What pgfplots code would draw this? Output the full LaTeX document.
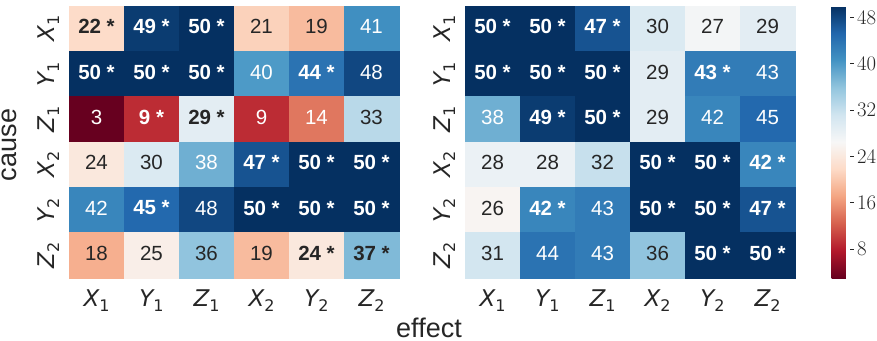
\documentclass[border=0pt]{standalone}
\usepackage{pgfplots}
\pgfplotsset{compat=1.18}
\usepackage{fontspec}
\setmainfont{Liberation Sans}
\newfontfamily\dv{DejaVu Sans}
\definecolor{txt}{HTML}{262626}
% mathtext-like tick label: italic letter, upright subscript digit
\newcommand\lb[2]{{\dv\itshape #1}\raisebox{-0.22em}{\fontsize{16}{16}\selectfont\dv #2}}

\pgfplotsset{
  colormap={rdbu}{rgb255=(103,0,31) rgb255=(178,24,43) rgb255=(214,96,77)
    rgb255=(244,165,130) rgb255=(253,219,199) rgb255=(247,247,247)
    rgb255=(209,229,240) rgb255=(146,197,222) rgb255=(67,147,195)
    rgb255=(33,102,172) rgb255=(5,48,97)},
  hm/.style={
    scale only axis, width=330pt, height=272pt,
    xmin=-0.5, xmax=5.5, ymin=-0.5, ymax=5.5, y dir=reverse,
    enlargelimits=false, axis line style={draw=none},
    major tick length=0pt, clip=false,
    point meta min=3, point meta max=50,
    xtick={0,...,5}, ytick={0,...,5},
    xticklabels={\lb{X}{1},\lb{Y}{1},\lb{Z}{1},\lb{X}{2},\lb{Y}{2},\lb{Z}{2}},
    yticklabels={\lb{X}{1},\lb{Y}{1},\lb{Z}{1},\lb{X}{2},\lb{Y}{2},\lb{Z}{2}},
    ticklabel style={text=txt, font=\fontsize{23}{23}\selectfont},
    xticklabel style={anchor=base, yshift=-28pt},
    yticklabel style={xshift=-15pt, rotate=90, anchor=base},
  },
  % each cell: a filled rectangle mark 55pt x 45.33pt coloured by the value
  hmcells/.style={scatter, only marks, mark=square*, mark size=22.67pt,
    every mark/.append style={xscale=1.2133, line width=0.6pt},
    scatter/use mapped color={draw=mapped color, fill=mapped color},
    point meta=explicit},
  % meta = value + 100 if significant
  hmvals/.style={draw=none, mark=none,
    point meta={\thisrow{v}+100*\thisrow{s}},
    nodes near coords={%
      \pgfmathprintnumberto[fixed, precision=0, 1000 sep={}, assume math mode=true]{\pgfplotspointmeta}{\m}%
      \pgfmathtruncatemacro\sig{\m>99}%
      \pgfmathtruncatemacro\val{\m-100*\sig}%
      \pgfmathtruncatemacro\wt{(\val<16)||(\val>37.5)}%
      \ifnum\wt=1\color{white}\else\color{txt}\fi
      \ifnum\sig=1\bfseries\val~*\else\val\fi},
    nodes near coords style={anchor=center, yshift=2pt,
      font=\fontsize{20.5}{20.5}\selectfont}},
}

\pgfplotstableread{
x y v s
0 0 22 1
1 0 49 1
2 0 50 1
3 0 21 0
4 0 19 0
5 0 41 0
0 1 50 1
1 1 50 1
2 1 50 1
3 1 40 0
4 1 44 1
5 1 48 0
0 2 3 0
1 2 9 1
2 2 29 1
3 2 9 0
4 2 14 0
5 2 33 0
0 3 24 0
1 3 30 0
2 3 38 0
3 3 47 1
4 3 50 1
5 3 50 1
0 4 42 0
1 4 45 1
2 4 48 0
3 4 50 1
4 4 50 1
5 4 50 1
0 5 18 0
1 5 25 0
2 5 36 0
3 5 19 0
4 5 24 1
5 5 37 1
}\lefttab

\pgfplotstableread{
x y v s
0 0 50 1
1 0 50 1
2 0 47 1
3 0 30 0
4 0 27 0
5 0 29 0
0 1 50 1
1 1 50 1
2 1 50 1
3 1 29 0
4 1 43 1
5 1 43 0
0 2 38 0
1 2 49 1
2 2 50 1
3 2 29 0
4 2 42 0
5 2 45 0
0 3 28 0
1 3 28 0
2 3 32 0
3 3 50 1
4 3 50 1
5 3 42 1
0 4 26 0
1 4 42 1
2 4 43 0
3 4 50 1
4 4 50 1
5 4 47 1
0 5 31 0
1 5 44 0
2 5 43 0
3 5 36 0
4 5 50 1
5 5 50 1
}\righttab

\begin{document}
\begin{tikzpicture}
\path[use as bounding box] (0pt,0pt) rectangle (877pt,340pt);

\begin{axis}[hm, at={(69pt,62pt)}, anchor=south west]
  \addplot[hmcells] table[x=x, y=y, meta=v] {\lefttab};
  \draw[white, line width=3pt] (axis cs:2.5,-0.5) -- (axis cs:2.5,5.5);
  \draw[white, line width=3pt] (axis cs:-0.5,2.5) -- (axis cs:5.5,2.5);
  \addplot[hmvals] table[x=x, y=y] {\lefttab};
\end{axis}

\begin{axis}[hm, at={(465pt,62pt)}, anchor=south west]
  \addplot[hmcells] table[x=x, y=y, meta=v] {\righttab};
  \draw[white, line width=3pt] (axis cs:2.5,-0.5) -- (axis cs:2.5,5.5);
  \draw[white, line width=3pt] (axis cs:-0.5,2.5) -- (axis cs:5.5,2.5);
  \addplot[hmvals] table[x=x, y=y] {\righttab};
\end{axis}

% empty host axis that only carries the colour bar
\begin{axis}[at={(823pt,62pt)}, anchor=south west, scale only axis,
  width=18pt, height=272pt, hide axis,
  xmin=0, xmax=1, ymin=0, ymax=1,
  point meta min=3, point meta max=50,
  colorbar,
  colorbar style={
    at={(parent axis.south west)}, anchor=south west,
    scale only axis, width=18pt, height=272pt,
    ytick={8,16,...,48}, yticklabel pos=right, ytick pos=right,
    ytick align=outside, major tick length=4pt,
    tick style={txt, line width=1pt},
    axis line style={draw=none},
    yticklabel style={font=\fontsize{20.5}{20.5}\selectfont, text=txt},
  }]
\end{axis}

\node[rotate=90, anchor=base, text=txt, font=\fontsize{27}{27}\selectfont]
  at (16pt,195pt) {cause};
\node[anchor=base, text=txt, font=\fontsize{27}{27}\selectfont]
  at (429pt,3pt) {effect};
\end{tikzpicture}
\end{document}
